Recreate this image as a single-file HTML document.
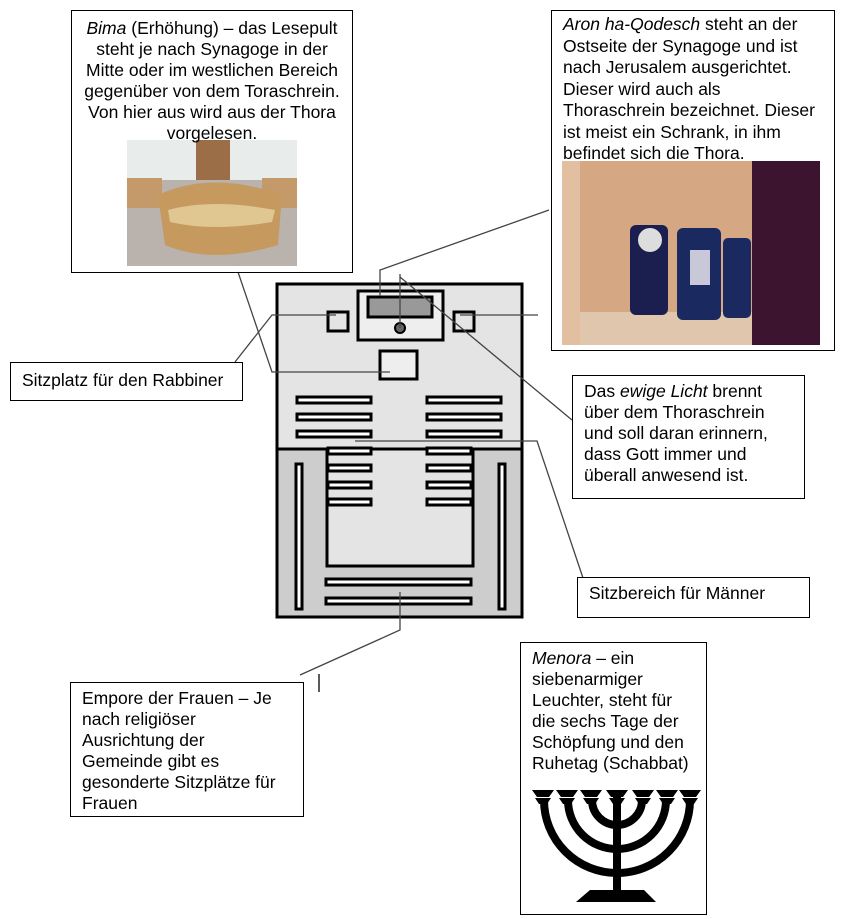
<!DOCTYPE html>
<html><head><meta charset="utf-8"><style>
body{margin:0;background:#fff;width:847px;height:919px;position:relative;overflow:hidden;font-family:"Liberation Sans",Arial,sans-serif;font-size:17.5px;line-height:21px;color:#000}
.b{position:absolute;border:1px solid #000;background:#fff;box-sizing:border-box;white-space:nowrap}
svg{position:absolute;left:0;top:0}
</style></head><body>
<svg width="847" height="919">
<rect x="277" y="284" width="245" height="333" fill="#e4e4e4" stroke="#000" stroke-width="3"/>
<path d="M277 449 H327 V566 H473 V449 H522 V617 H277 Z" fill="#cdcdcd"/>
<line x1="277" y1="449" x2="327" y2="449" stroke="#000" stroke-width="3"/>
<line x1="473" y1="449" x2="522" y2="449" stroke="#000" stroke-width="3"/>
<rect x="327" y="449" width="146" height="117" fill="none" stroke="#000" stroke-width="3"/>
<rect x="277" y="284" width="245" height="333" fill="none" stroke="#000" stroke-width="3"/>
<rect x="358" y="291" width="85" height="49" fill="#eee" stroke="#000" stroke-width="3"/>
<rect x="368" y="297" width="64" height="20" fill="#999" stroke="#000" stroke-width="3"/>
<circle cx="400" cy="328" r="5" fill="#666" stroke="#000" stroke-width="2"/>
<rect x="328" y="312" width="20" height="19" fill="#e4e4e4" stroke="#000" stroke-width="3"/>
<rect x="454" y="312" width="20" height="19" fill="#e4e4e4" stroke="#000" stroke-width="3"/>
<rect x="380" y="351" width="37" height="28" fill="#eee" stroke="#000" stroke-width="3"/>
<g fill="#fff" stroke="#000" stroke-width="3">
<rect x="297" y="397" width="74" height="6"/><rect x="297" y="414" width="74" height="6"/><rect x="297" y="431" width="74" height="6"/>
<rect x="328" y="448" width="43" height="6"/><rect x="328" y="465" width="43" height="6"/><rect x="328" y="482" width="43" height="6"/><rect x="328" y="499" width="43" height="6"/>
<rect x="427" y="397" width="74" height="6"/><rect x="427" y="414" width="74" height="6"/><rect x="427" y="431" width="74" height="6"/>
<rect x="427" y="448" width="44" height="6"/><rect x="427" y="465" width="44" height="6"/><rect x="427" y="482" width="44" height="6"/><rect x="427" y="499" width="44" height="6"/>
<rect x="296" y="464" width="6" height="145"/><rect x="499" y="464" width="6" height="145"/>
<rect x="326" y="579" width="145" height="6"/><rect x="326" y="598" width="145" height="6"/>
</g>
<g stroke="#444" stroke-width="1.3" fill="none">
<polyline points="238,272 272,372 390,372"/>
<polyline points="235,362 272,315 336,315"/>
<line x1="460" y1="315" x2="538" y2="315"/>
<polyline points="549,210 380,270 380,296"/>
<line x1="400" y1="274" x2="400" y2="328"/>
<line x1="400" y1="277" x2="572" y2="420"/>
<polyline points="355,441 537,441 583,578"/>
<polyline points="400,592 400,630 300,675"/>
<line x1="319" y1="674" x2="319" y2="692" stroke="#000"/>
</g>
<rect x="127" y="140" width="170" height="126" fill="#b9b2ad"/>
<rect x="127" y="140" width="170" height="40" fill="#e8ecea"/>
<rect x="196" y="140" width="34" height="40" fill="#9c6e48"/>
<rect x="127" y="178" width="35" height="30" fill="#c49a6a"/>
<rect x="262" y="178" width="35" height="30" fill="#c49a6a"/>
<path d="M158 195 Q212 170 282 195 L278 245 Q212 265 165 245 Z" fill="#c6995f"/>
<path d="M168 210 Q212 198 275 210 L272 222 Q212 232 170 222 Z" fill="#e0c690"/>
<rect x="562" y="161" width="258" height="184" fill="#d5a883"/>
<rect x="562" y="161" width="18" height="184" fill="#e2bfa0"/>
<rect x="580" y="312" width="172" height="33" fill="#e0c6ad"/>
<rect x="752" y="161" width="68" height="184" fill="#3c1430"/>
<rect x="630" y="225" width="38" height="90" rx="6" fill="#1a1f50"/>
<circle cx="650" cy="240" r="12" fill="#ddd"/>
<rect x="677" y="228" width="44" height="92" rx="6" fill="#1a2a60"/>
<rect x="690" y="250" width="20" height="35" fill="#c8c8d8"/>
<rect x="723" y="238" width="28" height="80" rx="5" fill="#1a2a60"/>
<g fill="none" stroke="#000" stroke-width="8">
<path d="M544 800 A73 73 0 0 0 690 800"/>
<path d="M568 800 A49 49 0 0 0 666 800"/>
<path d="M592 800 A25 25 0 0 0 642 800"/>
<line x1="617" y1="795" x2="617" y2="897"/>
</g>
<path d="M590 890 L644 890 L656 902 L576 902 Z" fill="#000"/>
<g fill="#000">
<path d="M532 790 h22 l-5 7 h-12 z M535 798 h16 l-4 6 h-8z"/>
<path d="M556 790 h22 l-5 7 h-12 z M559 798 h16 l-4 6 h-8z"/>
<path d="M580 790 h22 l-5 7 h-12 z M583 798 h16 l-4 6 h-8z"/>
<path d="M606 790 h22 l-5 7 h-12 z M609 798 h16 l-4 6 h-8z"/>
<path d="M632 790 h22 l-5 7 h-12 z M635 798 h16 l-4 6 h-8z"/>
<path d="M656 790 h22 l-5 7 h-12 z M659 798 h16 l-4 6 h-8z"/>
<path d="M679 790 h22 l-5 7 h-12 z M682 798 h16 l-4 6 h-8z"/>
</g>
</svg>
<div class="b" style="left:71px;top:10px;width:282px;height:263px;background:none;text-align:center;padding-top:7px"><i>Bima</i> (Erhöhung) – das Lesepult<br>steht je nach Synagoge in der<br>Mitte oder im westlichen Bereich<br>gegenüber von dem Toraschrein.<br>Von hier aus wird aus der Thora<br>vorgelesen.</div>
<div class="b" style="left:551px;top:10px;width:284px;height:341px;background:none;padding:3px 0 0 11px;line-height:21.5px"><i>Aron ha-Qodesch</i> steht an der<br>Ostseite der Synagoge und ist<br>nach Jerusalem ausgerichtet.<br>Dieser wird auch als<br>Thoraschrein bezeichnet. Dieser<br>ist meist ein Schrank, in ihm<br>befindet sich die Thora.</div>
<div class="b" style="left:10px;top:362px;width:233px;height:39px;padding:7px 0 0 11px">Sitzplatz für den Rabbiner</div>
<div class="b" style="left:572px;top:375px;width:233px;height:124px;padding:5px 0 0 11px">Das <i>ewige Licht</i> brennt<br>über dem Thoraschrein<br>und soll daran erinnern,<br>dass Gott immer und<br>überall anwesend ist.</div>
<div class="b" style="left:577px;top:577px;width:233px;height:41px;padding:5px 0 0 11px">Sitzbereich für Männer</div>
<div class="b" style="left:70px;top:682px;width:234px;height:135px;padding:5px 0 0 11px">Empore der Frauen – Je<br>nach religiöser<br>Ausrichtung der<br>Gemeinde gibt es<br>gesonderte Sitzplätze für<br>Frauen</div>
<div class="b" style="left:520px;top:642px;width:187px;height:273px;background:none;padding:5px 0 0 11px"><i>Menora</i> – ein<br>siebenarmiger<br>Leuchter, steht für<br>die sechs Tage der<br>Schöpfung und den<br>Ruhetag (Schabbat)</div>
</body></html>
